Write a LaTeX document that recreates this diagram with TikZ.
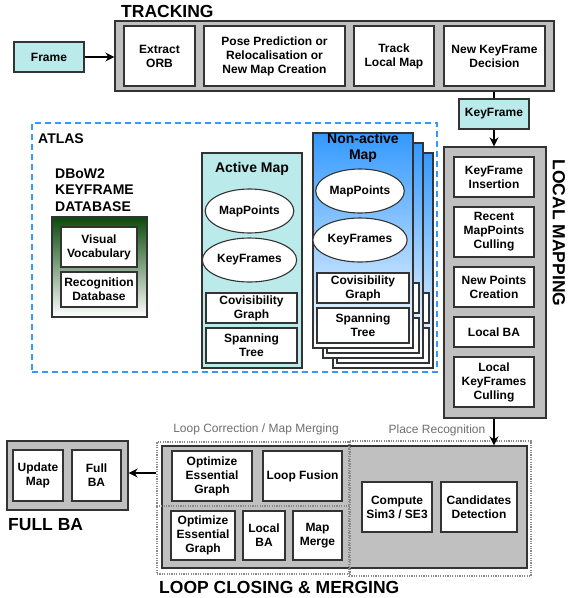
\documentclass[tikz,border=0pt]{standalone}
\usepackage{fontspec}
\setmainfont{Liberation Sans}
\usetikzlibrary{arrows.meta,shapes.geometric}
\definecolor{grayfill}{HTML}{C0C0C0}
\definecolor{cyanfill}{HTML}{BAEAEA}
\definecolor{edge}{HTML}{333333}
\definecolor{atlasblue}{HTML}{3399FF}
\definecolor{dkgreen}{HTML}{0A4A0A}
\definecolor{naBlue}{HTML}{3399FF}
\definecolor{dotgray}{HTML}{8A8A8A}
\newcommand\rb[6][]{\node[#1,minimum width={(#4)-(#2)},minimum height={(#5)-(#3)}] (#6) at ({((#2)+(#4))/2},{((#3)+(#5))/2})}
\begin{document}
\begin{tikzpicture}[x=1pt,y=-1pt,
  txt/.style={align=center,font=\bfseries\fontsize{12}{14}\selectfont,inner sep=1pt},
  wbox/.style={draw=edge,fill=white,line width=1.3pt,txt},
  gbox/.style={draw=edge,fill=grayfill,line width=1.3pt,inner sep=0pt},
  cbox/.style={draw=edge,fill=cyanfill,line width=1.3pt,txt},
  ell/.style={ellipse,draw=edge,fill=white,line width=1.1pt,txt},
  title/.style={font=\bfseries\fontsize{17.5}{20}\selectfont,inner sep=0pt},
  subtitle/.style={font=\bfseries\fontsize{14}{16.5}\selectfont,inner sep=0pt,align=center},
  glabel/.style={font=\fontsize{12}{14}\selectfont,text=dotgray!80!black,inner sep=0pt},
  dotbox/.style={draw=dotgray,line width=1.2pt,dash pattern=on 1.2pt off 1.2pt,inner sep=0pt},
  atlasbox/.style={draw=atlasblue,line width=1.6pt,dash pattern=on 6pt off 4pt,inner sep=0pt},
  conn/.style={line width=1.5pt,draw=black},
  arr/.style={conn,-{Stealth[length=9pt,width=9pt]}}]
\useasboundingbox (0,0) rectangle (571,598);

% ---------------- TRACKING
\rb[gbox]{115}{21}{554}{91}{tracking}{};
\rb[wbox]{124}{26}{195}{86}{orb}{Extract\\ORB};
\rb[wbox]{204}{26}{345}{86}{pose}{Pose Prediction or\\Relocalisation or\\New Map Creation};
\rb[wbox]{354}{26}{434}{86}{tlm}{Track\\Local Map};
\rb[wbox]{444}{26}{545}{86}{nkd}{New KeyFrame\\Decision};
\node[title,anchor=west] (trackingl) at (121,11) {TRACKING};
\rb[cbox]{14}{42}{84}{72}{frame}{Frame};
\draw[arr] (frame.east) -- (tracking.west |- frame.east);

% ---------------- KEYFRAME + LOCAL MAPPING
\rb[cbox]{459}{99}{529}{129}{kf}{KeyFrame};
\rb[gbox]{444}{147}{546}{418}{lm}{};
\draw[conn] (tracking.south -| kf) -- (kf.north);
\draw[arr] (kf.south) -- (lm.north -| kf);
\rb[wbox]{454}{157}{534}{197}{kfi}{KeyFrame\\Insertion};
\rb[wbox]{454}{207}{534}{257}{rmc}{Recent\\MapPoints\\Culling};
\rb[wbox]{454}{267}{534}{307}{npc}{New Points\\Creation};
\rb[wbox]{454}{317}{534}{347}{lba}{Local BA};
\rb[wbox]{454}{357}{534}{407}{lkc}{Local\\KeyFrames\\Culling};
\node[title,rotate=-90] (lml) at (559,233) {LOCAL MAPPING};

% ---------------- ATLAS
\rb[atlasbox]{32}{123}{437}{372}{atlas}{};
\node[subtitle,anchor=west] (atlasl) at (38,139) {ATLAS};
\node[subtitle,anchor=west,align=left] (dbow) at (55,190) {DBoW2\\KEYFRAME\\DATABASE};
\rb[draw=edge,line width=1.3pt,top color=dkgreen,bottom color=white]{52}{217}{147}{317}{dbbox}{};
\rb[wbox]{61}{227}{137}{267}{vv}{Visual\\Vocabulary};
\rb[wbox]{61}{272}{137}{307}{rd}{Recognition\\Database};

% Active map
\rb[draw=edge,fill=cyanfill,line width=1.3pt]{202}{153}{302}{368}{am}{};
\node[subtitle] (aml) at (252,169) {Active Map};
\node[ell,minimum width=85,minimum height=44] (amp) at (249.5,211) {MapPoints};
\node[ell,minimum width=85,minimum height=44] (akf) at (249.5,260) {KeyFrames};
\rb[wbox]{206}{293}{297}{323}{acg}{Covisibility\\Graph};
\rb[wbox]{206}{328}{297}{363}{ast}{Spanning\\Tree};

% Non-active maps (stack): back copies without visible text
\foreach \o in {20,10}{
  \begin{scope}[shift={(\o,\o)}]
  \rb[draw=edge,line width=1.3pt,top color=naBlue,bottom color=white]{313}{133}{413}{348}{na\o}{};
  \node[ell,minimum width=86,minimum height=44] (nmp\o) at (360,191) {};
  \node[ell,minimum width=86,minimum height=44] (nkf\o) at (360,240) {};
  \rb[wbox]{317}{273}{409}{303}{ncg\o}{};
  \rb[wbox]{317}{308}{409}{343}{nst\o}{};
  \end{scope}
}
\rb[draw=edge,line width=1.3pt,top color=naBlue,bottom color=white]{313}{133}{413}{348}{na}{};
\node[ell,minimum width=86,minimum height=44] (nmp) at (360,191) {MapPoints};
\node[ell,minimum width=86,minimum height=44] (nkf) at (360,240) {KeyFrames};
\rb[wbox]{317}{273}{409}{303}{ncg}{Covisibility\\Graph};
\rb[wbox]{317}{308}{409}{343}{nst}{Spanning\\Tree};
\node[subtitle] (nal) at (363,148) {Non-active\\Map};

% ---------------- LOOP CLOSING & MERGING
\rb[gbox]{162}{446}{527}{568}{lcgray}{};
\rb[dotbox]{157}{442}{350}{574}{lcbox}{};
\rb[dotbox]{349}{441}{531}{576}{prbox}{};
\coordinate (hl) at (0,506);
\draw[dotbox] (lcbox.west |- hl) -- (lcbox.east |- hl);
\node[glabel] (lcl) at (256,429) {Loop Correction / Map Merging};
\node[glabel] (prl) at (437,430) {Place Recognition};
\rb[wbox]{172}{451}{252}{501}{oeg1}{Optimize\\Essential\\Graph};
\rb[wbox]{263}{451}{342}{501}{lf}{Loop Fusion};
\rb[wbox]{171}{511}{235}{560}{oeg2}{Optimize\\Essential\\Graph};
\rb[wbox]{243}{511}{285}{560}{lba2}{Local\\BA};
\rb[wbox]{293}{511}{342}{560}{mm}{Map\\Merge};
\rb[wbox]{362}{482}{432}{532}{sim}{Compute\\Sim3 / SE3};
\rb[wbox]{441}{482}{517}{532}{cd}{Candidates\\Detection};
\node[title,anchor=west] (lcml) at (159,587) {LOOP CLOSING \& MERGING};
\draw[arr] (lm.south -| kf) -- (lcgray.north -| kf);

% ---------------- FULL BA
\rb[gbox]{7}{441}{128}{510}{fb}{};
\rb[wbox]{13}{450}{63}{501}{um}{Update\\Map};
\rb[wbox]{72}{450}{121}{501}{fba}{Full\\BA};
\node[title,anchor=west] (fbl) at (8,525) {FULL BA};
\coordinate (ay) at (0,473);
\draw[arr] (lcbox.west |- ay) -- (fb.east |- ay);
\end{tikzpicture}
\end{document}
